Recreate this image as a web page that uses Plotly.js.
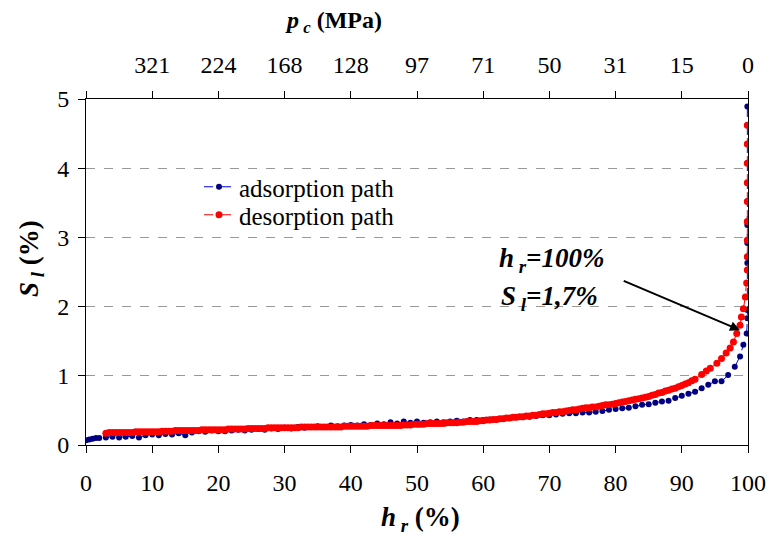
<!DOCTYPE html>
<html>
<head>
<meta charset="utf-8">
<script src="https://cdn.plot.ly/plotly-3.0.1.min.js"></script>
<style>html,body{margin:0;padding:0;background:#fff;}#chart{width:769px;height:537px;}</style>
</head>
<body>
<div id="chart"></div>
<script>
// Adsorption path (relative humidity hr %, liquid saturation Sl %)
const adsHr = [0,0.5,1,1.5,2,3,4,5,6,7,8,9,10,11,12,13,14,15,16,17,18,19,20,21,22,23,24,25,26,27,28,29,30,31,32,33,34,35,36,37,38,39,40,41,42,43,44,45,46,47,48,49,50,51,52,53,54,55,56,57,58,59,60,61,62,63,64,65,66,67,68,69,70,71,72,73,74,75,76,77,78,79,80,81,82,83,84,85,86,87,88,89,90,91,92,93,94,95,96,97,98,98.8,99.3,99.8,99.9,99.9,99.9,99.9,99.9,99.9,99.9,99.9,99.9,99.9,99.9,99.9,99.9,99.9,99.9,99.9,99.9];
const adsSl = [0.07,0.08,0.09,0.10,0.10,0.11,0.12,0.11,0.12,0.13,0.11,0.14,0.15,0.14,0.16,0.15,0.17,0.14,0.18,0.20,0.19,0.21,0.20,0.20,0.21,0.22,0.21,0.22,0.23,0.22,0.24,0.23,0.25,0.24,0.26,0.25,0.26,0.27,0.26,0.28,0.27,0.28,0.29,0.28,0.30,0.29,0.31,0.30,0.33,0.31,0.34,0.32,0.34,0.32,0.33,0.34,0.33,0.34,0.35,0.34,0.36,0.36,0.36,0.37,0.37,0.38,0.39,0.40,0.40,0.41,0.42,0.43,0.43,0.44,0.45,0.46,0.46,0.47,0.47,0.48,0.49,0.51,0.52,0.53,0.54,0.56,0.58,0.59,0.61,0.63,0.64,0.68,0.71,0.74,0.77,0.82,0.87,0.92,0.92,1.01,1.13,1.28,1.45,1.61,1.83,1.95,2.14,2.34,2.53,2.63,2.72,2.92,2.96,3.18,3.23,3.52,3.79,4.07,4.35,4.62,4.89];

// Desorption path
const desHr = [3,3.5,4,4.5,5,5.5,6,6.5,7,7.5,8,8.5,9,9.5,10,10.5,11,11.5,12,12.5,13,13.5,14,14.5,15,15.5,16,16.5,17,17.5,18,18.5,19,19.5,20,20.5,21,21.5,22,22.5,23,23.5,24,24.5,25,25.5,26,26.5,27,27.5,28,28.5,29,29.5,30,30.5,31,31.5,32,32.5,33,33.5,34,34.5,35,35.5,36,36.5,37,37.5,38,38.5,39,39.5,40,40.5,41,41.5,42,42.5,43,43.5,44,44.5,45,45.5,46,46.5,47,47.5,48,48.5,49,49.5,50,50.5,51,51.5,52,52.5,53,53.5,54,54.5,55,55.5,56,56.5,57,57.5,58,58.5,59,59.5,60,60.5,61,61.5,62,62.5,63,63.5,64,64.5,65,65.5,66,66.5,67,67.5,68,68.5,69,69.5,70,70.5,71,71.5,72,72.5,73,73.5,74,74.5,75,75.5,76,76.5,77,77.5,78,78.5,79,79.5,80,80.5,81,81.5,82,82.5,83,83.5,84,84.5,85,85.5,86,86.5,87,87.5,88,88.5,89,89.5,90,90.5,91,91.5,92,93,93.7,94.3,95.3,96.0,96.7,97.3,97.8,98.3,98.8,99.0,99.3,99.6,99.8,99.9,99.9,99.9,99.9,99.9,99.9,99.9,99.9,99.9];
const desSl = [0.17,0.18,0.18,0.18,0.18,0.18,0.18,0.18,0.18,0.19,
  0.19,0.19,0.19,0.19,0.19,0.19,0.19,0.20,0.20,0.20,
  0.20,0.21,0.21,0.21,0.21,0.21,0.21,0.21,0.21,0.22,
  0.22,0.22,0.22,0.22,0.22,0.22,0.22,0.23,0.23,0.23,
  0.23,0.23,0.23,0.24,0.24,0.24,0.24,0.24,0.24,0.25,
  0.25,0.25,0.25,0.25,0.25,0.25,0.25,0.25,0.25,0.26,
  0.26,0.26,0.26,0.26,0.26,0.26,0.26,0.26,0.26,0.26,
  0.26,0.26,0.27,0.27,0.27,0.27,0.27,0.27,0.27,0.27,
  0.28,0.28,0.28,0.28,0.28,0.28,0.28,0.28,0.28,0.28,
  0.29,0.29,0.29,0.30,0.30,0.30,0.30,0.31,0.31,0.31,
  0.31,0.31,0.31,0.32,0.32,0.32,0.32,0.33,0.33,0.34,
  0.34,0.34,0.34,0.35,0.35,0.36,0.36,0.37,0.37,0.38,
  0.38,0.39,0.39,0.40,0.40,0.41,0.41,0.42,0.42,0.43,
  0.43,0.44,0.45,0.45,0.46,0.47,0.47,0.48,0.48,0.49,
  0.50,0.51,0.51,0.52,0.53,0.54,0.54,0.55,0.55,0.56,
  0.57,0.58,0.58,0.59,0.60,0.61,0.62,0.63,0.64,0.65,
  0.66,0.67,0.68,0.69,0.70,0.72,0.73,0.75,0.76,0.78,
  0.79,0.81,0.82,0.84,0.86,0.88,0.90,0.93,0.95,
  1.02,1.07,1.11,1.18,1.25,1.33,1.40,1.49,1.61,1.73,1.85,1.97,2.14,2.34,
  2.53,2.72,2.96,3.23,3.52,3.79,4.07,4.35,4.62,4.89];

// Axis ticks
const hrTicks = [0,10,20,30,40,50,60,70,80,90,100];
const pcTickVals = [0,10,20,30,40,50,60,70,80,90,100];
const pcTickText = ['','321','224','168','128','97','71','50','31','15','0'];

const FONT = '"Liberation Serif", "DejaVu Serif", serif';

const traces = [
  {x: adsHr, y: adsSl, name: 'adsorption path', type: 'scatter', mode: 'lines+markers', legend: 'legend',
   line: {color: '#0000FF', width: 1, dash: 'dash'}, marker: {color: '#000080', size: 6}},
  {x: desHr, y: desSl, name: 'desorption path', type: 'scatter', mode: 'lines+markers', legend: 'legend2',
   line: {color: '#FF0000', width: 1, dash: 'dash'}, marker: {color: '#FF0000', size: 7}},
  {x: [0, 100], y: [0, 0], xaxis: 'x2', yaxis: 'y', mode: 'markers', marker: {opacity: 0}, showlegend: false, hoverinfo: 'skip'}
];

const legendCommon = {xanchor: 'left', yanchor: 'middle', bgcolor: 'rgba(0,0,0,0)', font: {family: FONT, size: 25}};

const layout = {
  width: 769, height: 537,
  margin: {l: 86, r: 21, t: 99, b: 92},
  paper_bgcolor: '#fff', plot_bgcolor: '#fff',
  font: {family: FONT, color: '#000', size: 23},
  showlegend: true,
  legend: Object.assign({x: (199 - 86) / 662, y: (445 - 187) / 346}, legendCommon),
  legend2: Object.assign({x: (199 - 86) / 662, y: (445 - 215) / 346}, legendCommon),
  xaxis: {range: [0, 100], tickvals: hrTicks, ticks: 'outside', ticklen: 7, tickcolor: '#000',
          showline: true, linecolor: '#000', linewidth: 1, showgrid: false, zeroline: false,
          tickfont: {family: FONT, size: 24}, ticklabelstandoff: 9},
  xaxis2: {overlaying: 'x', side: 'top', range: [0, 100], tickvals: pcTickVals, ticktext: pcTickText,
           ticks: 'outside', ticklen: 7, tickcolor: '#000', showline: true, linecolor: '#000', linewidth: 1,
           showgrid: false, zeroline: false, tickfont: {family: FONT, size: 24}, ticklabelstandoff: 8},
  yaxis: {range: [0, 5], dtick: 1, ticks: 'outside', ticklen: 7, tickcolor: '#000',
          showline: true, linecolor: '#000', linewidth: 1, mirror: true, zeroline: false,
          showgrid: true, gridcolor: '#999', griddash: 'dash', gridwidth: 1,
          tickfont: {family: FONT, size: 24}, ticklabelstandoff: 4},
  annotations: [
    {text: '<b><i>p</i></b><sub><b><i> c</i></b></sub><b> (MPa)</b>', xref: 'paper', yref: 'paper',
     x: (333 - 86) / 662, y: 1 + (99 - 22) / 346, xanchor: 'center', yanchor: 'middle', showarrow: false,
     font: {family: FONT, size: 24}},
    {text: '<b><i>h</i></b><sub><b><i> r</i></b></sub><b> (%)</b>', xref: 'paper', yref: 'paper',
     x: (420 - 86) / 662, y: -(519 - 445) / 346, xanchor: 'center', yanchor: 'middle', showarrow: false,
     font: {family: FONT, size: 27}},
    {text: '<b><i>S</i></b><sub><b><i> l</i></b></sub><b> (%)</b>', xref: 'paper', yref: 'paper',
     x: -(86 - 31) / 662, y: (445 - 259) / 346, xanchor: 'center', yanchor: 'middle', showarrow: false,
     textangle: -90, font: {family: FONT, size: 27}},
    {text: '<b><i>h<sub> r</sub>=100%</i></b>', xref: 'x', yref: 'y', x: 70.4, y: 2.67,
     xanchor: 'center', yanchor: 'middle', showarrow: false, font: {family: FONT, size: 27}},
    {text: '<b><i>S<sub> l</sub>=1,7%</i></b>', xref: 'x', yref: 'y', x: 70.0, y: 2.12,
     xanchor: 'center', yanchor: 'middle', showarrow: false, font: {family: FONT, size: 27}},
    {text: '', x: 98.8, y: 1.66, xref: 'x', yref: 'y', ax: 81.0, ay: 2.38, axref: 'x', ayref: 'y',
     showarrow: true, arrowhead: 2, arrowsize: 1, arrowwidth: 2, arrowcolor: '#000', standoff: 0}
  ]
};

Plotly.newPlot('chart', traces, layout, {displayModeBar: false, staticPlot: true});
</script>
</body>
</html>
